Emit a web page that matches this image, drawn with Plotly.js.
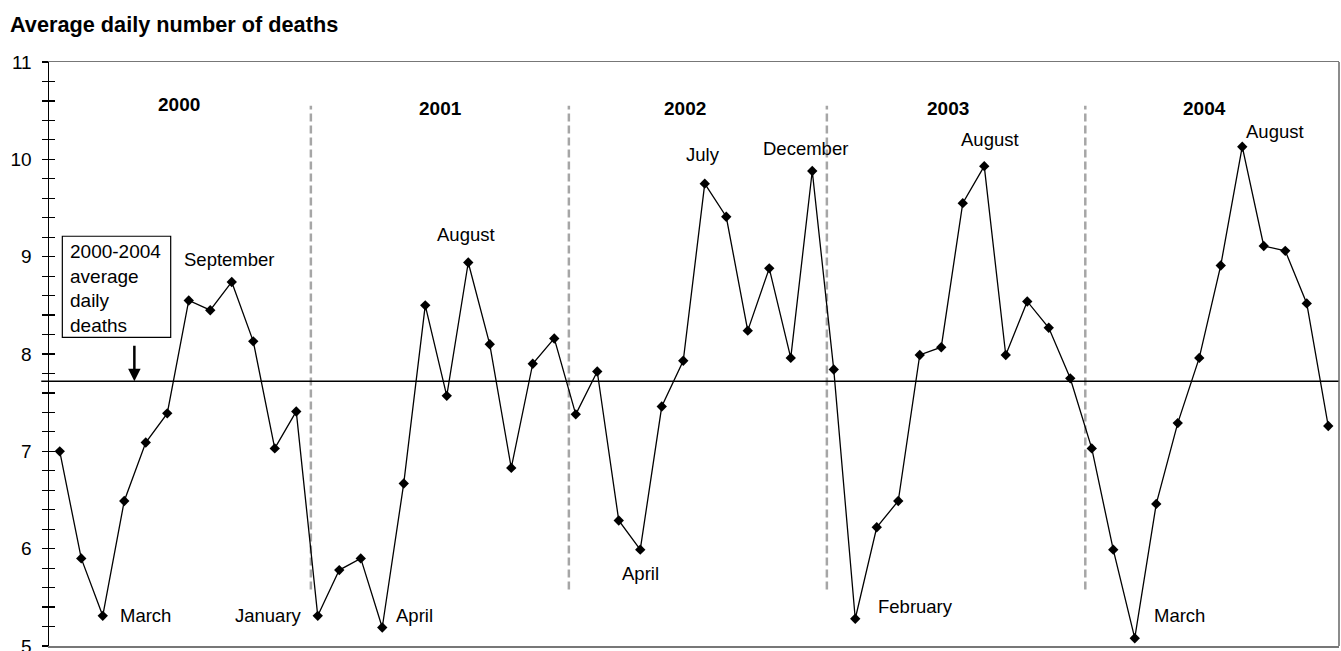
<!DOCTYPE html>
<html>
<head>
<meta charset="utf-8">
<script src="https://cdn.plot.ly/plotly-3.0.1.min.js"></script>
<style>
  html, body { margin: 0; padding: 0; background: #fff; }
  #chart { width: 1341px; height: 651px; }
</style>
</head>
<body>
<div id="chart"></div>
<script>
// Monthly average daily deaths, January 2000 to December 2004
const years = ['2000', '2001', '2002', '2003', '2004'];
const months = ['Jan', 'Feb', 'Mar', 'Apr', 'May', 'Jun', 'Jul', 'Aug', 'Sep', 'Oct', 'Nov', 'Dec'];

const deaths2000 = [7.00, 5.90, 5.31, 6.49, 7.09, 7.39, 8.55, 8.45, 8.74, 8.13, 7.03, 7.41];
const deaths2001 = [5.31, 5.78, 5.90, 5.19, 6.67, 8.50, 7.57, 8.94, 8.10, 6.83, 7.90, 8.16];
const deaths2002 = [7.38, 7.82, 6.29, 5.99, 7.46, 7.93, 9.75, 9.41, 8.24, 8.88, 7.96, 9.88];
const deaths2003 = [7.84, 5.28, 6.22, 6.49, 7.99, 8.07, 9.55, 9.93, 7.99, 8.54, 8.27, 7.75];
const deaths2004 = [7.03, 5.99, 5.08, 6.46, 7.29, 7.96, 8.91, 10.13, 9.11, 9.06, 8.52, 7.26];

// Five-year average of daily deaths
const overallAverage = 7.72;

// Month labels: [text, year index, month index, x (months from Jan 2000), y]
const monthNotes = [
  ['September', 0, 8, 7.90, 8.97],
  ['March', 0, 2, 4.00, 5.31],
  ['January', 1, 0, 9.72, 5.31],
  ['April', 1, 3, 16.49, 5.31],
  ['August', 1, 7, 18.91, 9.23],
  ['April', 2, 3, 27.03, 5.75],
  ['July', 2, 6, 29.90, 10.05],
  ['December', 2, 11, 34.69, 10.11],
  ['February', 3, 1, 39.80, 5.41],
  ['August', 3, 7, 43.29, 10.20],
  ['March', 4, 2, 52.07, 5.31],
  ['August', 4, 7, 56.53, 10.29]
];

// Year headings: x and y positions in data units
const yearLabelX = [5.54, 17.72, 29.06, 41.33, 53.26];
const yearLabelY = [10.56, 10.52, 10.52, 10.52, 10.52];
// Year separators sit just after each December
const separatorX = [11.68, 23.68, 35.68, 47.7];

const allValues = [].concat(deaths2000, deaths2001, deaths2002, deaths2003, deaths2004);
const xIndex = allValues.map((_, i) => i);
const hoverText = allValues.map((_, i) => months[i % 12] + ' ' + years[Math.floor(i / 12)]);

const FONT = 'Arial, "Liberation Sans", Helvetica, sans-serif';

const trace = {
  x: xIndex,
  y: allValues,
  text: hoverText,
  type: 'scatter',
  mode: 'lines+markers',
  line: { color: '#000', width: 1.3 },
  marker: { symbol: 'diamond', size: 8, color: '#000' },
  hovertemplate: '%{text}: %{y}<extra></extra>',
  showlegend: false
};

const shapes = [];
separatorX.forEach(x => {
  shapes.push({
    type: 'line', xref: 'x', yref: 'y',
    x0: x, x1: x, y0: 5.58, y1: 10.55,
    line: { color: '#a6a6a6', width: 2.5, dash: '8px,4px' },
    layer: 'below'
  });
});
// Average line
shapes.push({
  type: 'line', xref: 'paper', yref: 'y',
  x0: -0.006, x1: 1, y0: overallAverage, y1: overallAverage,
  line: { color: '#000', width: 1.3 }
});
// Right edge of the frame
shapes.push({
  type: 'line', xref: 'paper', yref: 'paper',
  x0: 1, x1: 1, y0: 0, y1: 1,
  line: { color: '#666', width: 1.5 }
});
// Box around the average note
shapes.push({
  type: 'rect', xref: 'x', yref: 'y',
  x0: 0.12, x1: 5.16, y0: 8.17, y1: 9.21,
  line: { color: '#000', width: 1.2 },
  fillcolor: '#fff'
});

const annotations = [];
years.forEach((yr, i) => {
  annotations.push({
    x: yearLabelX[i], y: yearLabelY[i], xref: 'x', yref: 'y',
    text: '<b>' + yr + '</b>', showarrow: false,
    font: { family: FONT, size: 19, color: '#000' }
  });
});
monthNotes.forEach(n => {
  annotations.push({
    x: n[3], y: n[4], xref: 'x', yref: 'y',
    text: n[0], showarrow: false,
    font: { family: FONT, size: 18.5, color: '#000' }
  });
});
annotations.push({
  x: 0.37, y: 8.668, xref: 'x', yref: 'y',
  xanchor: 'left', yanchor: 'middle', align: 'left',
  text: '2000-2004<br>average<br>daily<br>deaths', showarrow: false,
  font: { family: FONT, size: 19, color: '#000' }
});
annotations.push({
  x: 3.47, y: overallAverage, xref: 'x', yref: 'y',
  text: '', showarrow: true, ax: 0, ay: -37,
  arrowhead: 2, arrowsize: 1, arrowwidth: 2.5, arrowcolor: '#000', standoff: 0
});

const layout = {
  width: 1341, height: 651,
  margin: { l: 49, r: 2, t: 62, b: 5 },
  paper_bgcolor: '#fff', plot_bgcolor: '#fff',
  font: { family: FONT, color: '#000' },
  title: {
    text: '<b>Average daily number of deaths</b>',
    font: { family: FONT, size: 21.7, color: '#000' },
    x: 10 / 1341, xanchor: 'left', xref: 'container',
    y: 1 - 24 / 651, yanchor: 'middle', yref: 'container'
  },
  xaxis: {
    range: [-0.5, 59.5], showgrid: false, zeroline: false,
    showticklabels: false, ticks: '',
    showline: true, linecolor: '#777', linewidth: 1.5, mirror: true,
    fixedrange: true
  },
  yaxis: {
    range: [5, 11], dtick: 1, tick0: 5,
    showgrid: false, zeroline: false,
    showline: true, linecolor: '#000', linewidth: 1.5,
    ticks: 'outside', ticklen: 6, tickwidth: 1.2, tickcolor: '#000',
    ticklabelstandoff: 6, ticklabeloverflow: 'allow',
    minor: { dtick: 0.2, ticks: 'outside', ticklen: 6, tickwidth: 1.2, tickcolor: '#000' },
    tickfont: { family: FONT, size: 19, color: '#000' },
    fixedrange: true
  },
  yaxis2: {
    overlaying: 'y', side: 'left', range: [5, 11], dtick: 1, tick0: 5,
    showgrid: false, zeroline: false, showline: false, showticklabels: false,
    ticks: 'inside', ticklen: 6, tickwidth: 1.2, tickcolor: '#000',
    minor: { dtick: 0.2, ticks: 'inside', ticklen: 6, tickwidth: 1.2, tickcolor: '#000' },
    fixedrange: true
  },
  shapes: shapes,
  annotations: annotations,
  showlegend: false
};

// Invisible companion trace so the inner tick marks render on yaxis2
const tickCompanion = {
  x: [0], y: [5], yaxis: 'y2', type: 'scatter', mode: 'markers',
  marker: { opacity: 0 }, hoverinfo: 'skip', showlegend: false
};

Plotly.newPlot('chart', [tickCompanion, trace], layout, { displayModeBar: false, staticPlot: true });
</script>
</body>
</html>
